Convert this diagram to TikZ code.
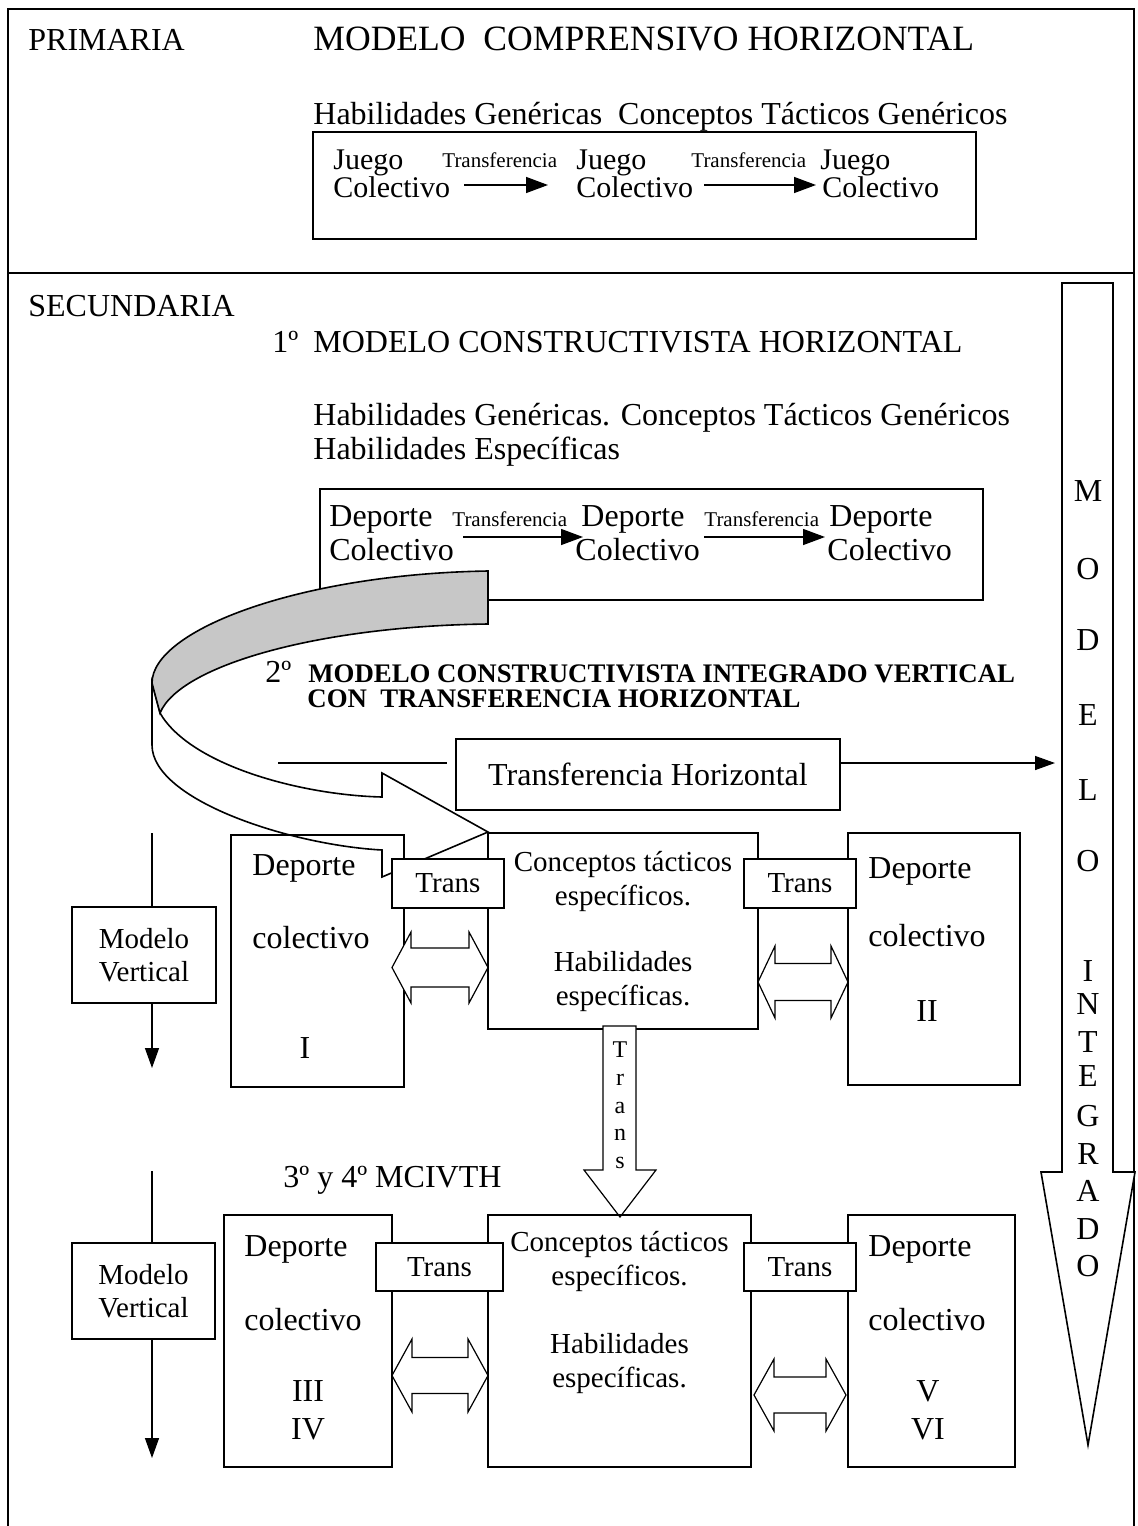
\documentclass[tikz,border=0pt]{standalone}
\usepackage{fontspec}
\setmainfont{Liberation Serif}
\usetikzlibrary{arrows.meta,positioning,calc}

% flecha doble: x1, x2, y, media cabeza, medio cuerpo, largo de cabeza
\newcommand{\flechadoble}[6]{%
  \draw[bloque] (#1,#3) -- (#1+#6,#3-#4) -- (#1+#6,#3-#5) -- (#2-#6,#3-#5)
    -- (#2-#6,#3-#4) -- (#2,#3) -- (#2-#6,#3+#4) -- (#2-#6,#3+#5)
    -- (#1+#6,#3+#5) -- (#1+#6,#3+#4) -- cycle;}

\begin{document}
\begin{tikzpicture}[
  x=0.5pt, y=-0.5pt,
  >={Triangle[length=10pt,width=7pt]},
  caja/.style={draw, line width=1pt, inner sep=0pt, align=center},
  transbox/.style={draw, fill=white, line width=0.6pt, inner sep=0pt,
    font=\fontsize{14.5}{17}\selectfont},
  txt/.style={anchor=base west, inner sep=0pt, font=\fontsize{16}{19}\selectfont},
  juego/.style={anchor=base west, inner sep=0pt, font=\fontsize{15}{17}\selectfont},
  chico/.style={anchor=base west, inner sep=0pt, font=\fontsize{10.5}{12}\selectfont},
  negrita/.style={anchor=base west, inner sep=0pt, font=\bfseries\fontsize{13.4}{16}\selectfont},
  concepto/.style={inner sep=0pt, align=center, anchor=base, font=\fontsize{14.5}{17}\selectfont},
  letra/.style={inner sep=0pt, font=\fontsize{16}{19}\selectfont},
  flecha/.style={-{Triangle[length=11pt,width=8pt]}, line width=0.7pt},
  bloque/.style={draw, fill=white, line width=0.6pt, line join=miter}
]
\useasboundingbox (0,0) rectangle (1137,1526);

% marco
\draw[line width=1pt] (8,1526) -- (8,9) -- (1134,9) -- (1134,1526);
\draw[line width=1pt] (8,273) -- (1134,273);

% PRIMARIA
\node[txt] (prim) at (28,50) {PRIMARIA};
\node[txt, font=\fontsize{17.8}{20}\selectfont] (mch) at (313,50) {MODELO~ COMPRENSIVO HORIZONTAL};
\node[txt] (hgp) at (313,124) {Habilidades Genéricas~ Conceptos Tácticos Genéricos};
\node[caja, minimum width=331.5pt, minimum height=53.5pt] (cajaJ) at (644.5,185.5) {};
\node[juego] (jA) at (333,169) {Juego};
\node[juego] (cA) at (333,197) {Colectivo};
\node[chico] (tA) at (442,167) {Transferencia};
\node[juego] (jB) at (576,169) {Juego};
\node[juego] (cB) at (576,197) {Colectivo};
\node[chico] (tB) at (691,167) {Transferencia};
\node[juego] (jC) at (820,169) {Juego};
\node[juego] (cC) at (822,197) {Colectivo};
\coordinate (fA) at (464,185);
\coordinate (fB) at (704,185);
\draw[flecha] (fA) -- (548,185);
\draw[flecha] (fB) -- (816,185);

% SECUNDARIA
\node[txt] (secu) at (28,316) {SECUNDARIA};
\node[txt] (uno) at (272,352) {1º};
\node[txt] (mcth) at (313,352) {MODELO CONSTRUCTIVISTA HORIZONTAL};
\node[txt] (hgs) at (313,425) {Habilidades Genéricas. Conceptos Tácticos Genéricos};
\node[txt] (hes) at (313,459) {Habilidades Específicas};
\node[caja, minimum width=331.5pt, minimum height=55.5pt] (cajaD) at (651.5,544.5) {};
\node[txt] (dA) at (329,526) {Deporte};
\node[txt] (kA) at (329,560) {Colectivo};
\node[chico] (uA) at (452,526) {Transferencia};
\node[txt] (dB) at (581,526) {Deporte};
\node[txt] (kB) at (575,560) {Colectivo};
\node[chico] (uB) at (704,526) {Transferencia};
\node[txt] (dC) at (829,526) {Deporte};
\node[txt] (kC) at (827,560) {Colectivo};
\coordinate (gA) at (463,537);
\coordinate (gB) at (704,537);
\draw[flecha] (gA) -- (583,537);
\draw[flecha] (gB) -- (825,537);

% flecha curva
\draw[line width=0.8pt, fill=white, line join=miter]
  (152,683) -- (152,745) .. controls (152,800) and (290,845) .. (382,850)
  -- (382,877) -- (488,832) -- (382,773) -- (382,797)
  .. controls (300,795) and (190,765) .. (160,713) -- cycle;
\draw[line width=0.8pt, fill=black!22]
  (488,571) .. controls (300,574) and (152,630) .. (152,683)
  -- (160,713) .. controls (180,665) and (320,626) .. (488,624) -- cycle;

% 2º modelo
\node[txt] (dos) at (265,682) {2º};
\node[negrita] (mciv) at (308,682) {MODELO CONSTRUCTIVISTA INTEGRADO VERTICAL};
\node[negrita] (cth) at (307,707) {CON~ TRANSFERENCIA HORIZONTAL};
\node[caja, minimum width=192pt, minimum height=35.5pt, font=\fontsize{16}{19}\selectfont]
  (th) at (648,774.5) {Transferencia Horizontal};
\coordinate (thl) at (278,763);
\coordinate (mi) at (1055,763);
\draw[line width=0.7pt] (thl) -- ([xshift=-4pt]th.west |- thl);
\draw[->, line width=0.7pt] (mi -| th.east) -- (mi);

% MODELO INTEGRADO
\draw[bloque, line width=0.8pt] (1062,283) -- (1113,283) -- (1113,1172) -- (1135,1172)
  -- (1088,1445) -- (1041,1172) -- (1062,1172) -- cycle;
\foreach \l/\y in {M/491,O/569,D/640,E/715,L/790,O/861,I/971,N/1004,T/1042,
  E/1076,G/1116,R/1154,A/1191,D/1229,O/1266}
  \node[letra] (mi\y) at (1088,\y) {\l};

% fila 1
\node[caja, minimum width=72pt, minimum height=48pt, font=\fontsize{14.5}{16.5}\selectfont]
  (mvA) at (144,955) {Modelo\\Vertical};
\coordinate (mvAtop) at (152,833);
\coordinate (mvAfin) at (152,1068);
\draw[line width=0.7pt] (mvAtop) -- (mvAtop |- mvA.north);
\draw[->, line width=0.7pt] (mvAtop |- mvA.south) -- (mvAfin);
\node[caja, minimum width=86.5pt, minimum height=126pt] (depI) at (317.5,961) {};
\node[caja, minimum width=135pt, minimum height=98pt] (conA) at (623,931) {};
\node[caja, minimum width=86pt, minimum height=126pt] (depII) at (934,959) {};
\flechadoble{392}{488}{967.5}{35.5}{19.5}{19}
\flechadoble{758}{848}{982}{36}{18.5}{17}
\node[transbox, minimum width=56pt, minimum height=24.5pt] (trA) at (448,883.5) {Trans};
\node[transbox, minimum width=56pt, minimum height=24.5pt] (trB) at (800,883.5) {Trans};
\node[txt] (dIa) at (252,875) {Deporte};
\node[txt] (dIb) at (252,948) {colectivo};
\node[txt, anchor=base] (dIc) at (305,1058) {I};
\node[concepto] (cAa) at (623,905) {Conceptos tácticos\\específicos.};
\node[concepto] (cAb) at (623,1005) {Habilidades\\específicas.};
\node[txt] (dIIa) at (868,878) {Deporte};
\node[txt] (dIIb) at (868,946) {colectivo};
\node[txt, anchor=base] (dIIc) at (927,1021) {II};

% Trans vertical
\draw[bloque] (603,1026) -- (636,1026) -- (636,1170) -- (656,1170) -- (620,1217)
  -- (584,1170) -- (603,1170) -- cycle;
\foreach \l/\y in {T/1050,r/1080,a/1108,n/1135,s/1163}
  \node[letra, font=\fontsize{12}{14}\selectfont] (tv\y) at (620,\y) {\l};

% fila 2
\node[txt] (mcivth) at (283,1187) {3º y 4º MCIVTH};
\node[caja, minimum width=71.5pt, minimum height=48pt, font=\fontsize{14.5}{16.5}\selectfont]
  (mvB) at (143.5,1291) {Modelo\\Vertical};
\coordinate (mvBtop) at (152,1171);
\coordinate (mvBfin) at (152,1458);
\draw[line width=0.7pt] (mvBtop) -- (mvBtop |- mvB.north);
\draw[->, line width=0.7pt] (mvBtop |- mvB.south) -- (mvBfin);
\node[caja, minimum width=84pt, minimum height=126pt] (depIII) at (308,1341) {};
\node[caja, minimum width=131.5pt, minimum height=126pt] (conB) at (619.5,1341) {};
\node[caja, minimum width=83.5pt, minimum height=126pt] (depV) at (931.5,1341) {};
\flechadoble{392}{488}{1375.5}{36.5}{18}{20}
\flechadoble{754}{846}{1395}{36}{18}{20}
\node[transbox, minimum width=63.5pt, minimum height=24pt] (trC) at (439.5,1267) {Trans};
\node[transbox, minimum width=56pt, minimum height=24pt] (trD) at (800,1267) {Trans};
\node[txt] (dIIIa) at (244,1256) {Deporte};
\node[txt] (dIIIb) at (244,1330) {colectivo};
\node[txt, anchor=base, align=center] (dIIIc) at (308,1439) {III\\IV};
\node[concepto] (cBa) at (619.5,1285) {Conceptos tácticos\\específicos.};
\node[concepto] (cBb) at (619.5,1387) {Habilidades\\específicas.};
\node[txt] (dVa) at (868,1256) {Deporte};
\node[txt] (dVb) at (868,1330) {colectivo};
\node[txt, anchor=base, align=center] (dVc) at (928,1439) {V\\VI};
\end{tikzpicture}
\end{document}
